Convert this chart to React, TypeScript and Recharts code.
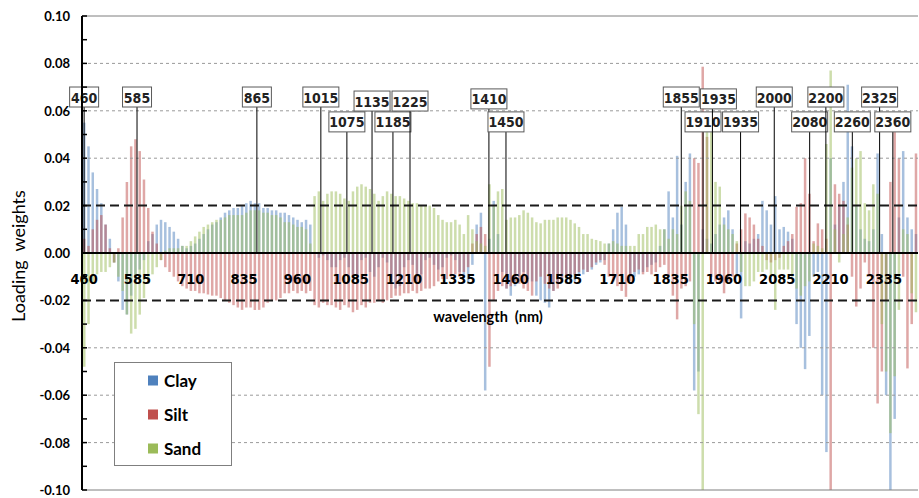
import { ComposedChart, Bar, XAxis, YAxis, ReferenceLine } from "recharts";

const FONT = "Lato, 'Noto Sans', sans-serif";
const NARROW = "'Liberation Sans Narrow', 'DejaVu Sans Condensed', Lato, sans-serif";

// wavelength grid (nm), one bar group every 10 nm
const WL_START = 460;
const WL_STEP = 10;
const WL_COUNT = 196;
const wavelengths = Array.from({ length: WL_COUNT }, (_, i) => WL_START + i * WL_STEP);

// loading weights, rows of 100 nm starting at 460
const clay = [
  0.055, 0.045, 0.034, 0.027, 0.021, 0.012, 0.006, -0.004, -0.012, -0.024,
  -0.026, -0.018, -0.012, -0.007, -0.003, 0.005, 0.008, 0.012, 0.014, 0.013,
  0.011, 0.009, 0.006, 0.003, 0.002, 0.003, 0.004, 0.006, 0.008, 0.010,
  0.012, 0.013, 0.015, 0.017, 0.018, 0.019, 0.019, 0.020, 0.021, 0.022,
  0.021, 0.021, 0.019, 0.019, 0.018, 0.018, 0.017, 0.017, 0.016, 0.015,
  0.014, 0.013, 0.014, 0.012, 0.000, -0.002, -0.001, -0.003, -0.006, -0.006,
  -0.003, -0.002, -0.006, -0.010, -0.009, -0.003, -0.002, -0.008, -0.010, -0.006,
  -0.002, -0.004, -0.012, -0.015, -0.014, -0.006, -0.003, -0.005, -0.010, -0.009,
  -0.003, -0.002, -0.005, -0.007, -0.006, -0.002, -0.001, -0.003, -0.008, -0.010,
  -0.013, -0.005, 0.012, 0.017, -0.058, 0.006, 0.022, 0.008, -0.008, -0.015,
  -0.018, -0.014, -0.010, -0.008, -0.011, -0.012, -0.018, -0.020, -0.021, -0.023,
  -0.016, -0.013, -0.011, -0.013, -0.013, -0.012, -0.009, -0.009, -0.008, -0.007,
  -0.005, -0.004, -0.003, 0.004, 0.010, 0.017, 0.0195, 0.012, -0.010, -0.010,
  -0.009, -0.008, -0.006, -0.005, -0.004, 0.003, 0.010, 0.026, 0.015, 0.041,
  0.012, 0.030, 0.042, -0.058, -0.050, 0.010, 0.006, 0.004, 0.008, 0.012,
  0.015, 0.018, 0.010, -0.010, -0.0276, 0.005, 0.004, 0.006, 0.008, 0.022,
  0.018, 0.012, 0.024, 0.010, 0.011, 0.009, 0.006, -0.030, -0.040, -0.049,
  -0.035, -0.010, -0.008, -0.060, -0.084, 0.040, 0.012, 0.020, 0.030, 0.071,
  0.045, 0.020, 0.010, 0.006, 0.005, 0.010, 0.042, 0.008, -0.060, -0.100,
  -0.070, 0.015, 0.043, 0.015, 0.010, 0.008,
];

const silt = [
  0.006, 0.003, 0.010, 0.014, 0.016, 0.012, 0.002, -0.004, 0.002, 0.015,
  0.030, 0.045, 0.048, 0.043, 0.031, 0.019, 0.009, 0.004, -0.003, -0.006,
  -0.008, -0.010, -0.012, -0.014, -0.015, -0.016, -0.016, -0.017, -0.017, -0.0175,
  -0.018, -0.018, -0.019, -0.020, -0.021, -0.022, -0.023, -0.024, -0.023, -0.023,
  -0.024, -0.024, -0.023, -0.021, -0.020, -0.020, -0.019, -0.017, -0.017, -0.016,
  -0.017, -0.016, -0.017, -0.016, -0.022, -0.023, -0.021, -0.022, -0.022, -0.023,
  -0.024, -0.022, -0.023, -0.025, -0.024, -0.022, -0.023, -0.021, -0.021, -0.020,
  -0.021, -0.020, -0.019, -0.018, -0.018, -0.017, -0.017, -0.016, -0.017, -0.016,
  -0.015, -0.015, -0.014, -0.012, -0.011, -0.011, -0.010, -0.009, -0.010, -0.008,
  -0.006, 0.004, 0.008, 0.011, 0.008, -0.048, -0.020, -0.016, -0.014, -0.015,
  -0.014, -0.012, -0.013, -0.015, -0.016, -0.018, -0.012, -0.010, -0.013, -0.015,
  -0.016, -0.015, -0.012, -0.010, -0.011, -0.009, -0.008, -0.007, -0.008, -0.006,
  -0.004, -0.003, -0.005, -0.010, -0.012, -0.014, -0.016, -0.0185, -0.012, -0.008,
  -0.007, -0.009, -0.008, -0.009, -0.008, -0.006, -0.005, -0.010, -0.018, -0.028,
  -0.015, -0.014, -0.012, 0.040, 0.038, 0.0786, 0.049, -0.010, -0.012, -0.013,
  -0.017, -0.012, -0.010, 0.004, 0.010, 0.0167, 0.015, 0.012, 0.006, 0.003,
  -0.003, -0.004, -0.003, -0.002, 0.003, 0.005, 0.008, 0.0195, 0.021, 0.040,
  0.025, 0.005, 0.0125, 0.010, 0.006, -0.100, 0.029, 0.025, 0.022, 0.012,
  -0.010, -0.0226, -0.015, -0.004, -0.010, -0.040, -0.0635, -0.050, -0.020, 0.030,
  0.051, 0.040, -0.010, -0.0487, -0.030, 0.042,
];

const sand = [
  -0.048, -0.030, -0.013, -0.009, -0.008, -0.008, -0.006, -0.004, -0.010, -0.016,
  -0.026, -0.034, -0.032, -0.026, -0.019, -0.013, -0.009, -0.006, -0.003, 0.001,
  0.002, 0.002, 0.002, 0.003, 0.003, 0.005, 0.007, 0.009, 0.011, 0.012,
  0.013, 0.014, 0.014, 0.015, 0.016, 0.016, 0.016, 0.016, 0.017, 0.018,
  0.018, 0.018, 0.017, 0.017, 0.016, 0.016, 0.015, 0.013, 0.013, 0.012,
  0.011, 0.011, 0.010, 0.004, 0.024, 0.026, 0.022, 0.025, 0.026, 0.026,
  0.025, 0.023, 0.022, 0.026, 0.028, 0.029, 0.028, 0.027, 0.025, 0.022,
  0.024, 0.026, 0.025, 0.024, 0.024, 0.023, 0.022, 0.021, 0.021, 0.020,
  0.020, 0.020, 0.019, 0.016, 0.014, 0.013, 0.013, 0.014, 0.012, 0.008,
  0.016, 0.010, 0.005, 0.004, 0.003, 0.029, 0.020, 0.026, 0.027, 0.014,
  0.015, 0.015, 0.016, 0.018, 0.017, 0.015, 0.013, 0.0125, 0.014, 0.014,
  0.014, 0.015, 0.015, 0.015, 0.014, 0.0125, 0.011, 0.008, 0.008, 0.006,
  0.0055, 0.005, 0.004, 0.004, 0.005, 0.004, 0.003, 0.003, 0.003, 0.003,
  0.008, 0.008, 0.011, 0.011, 0.012, 0.010, 0.010, 0.006, 0.010, 0.008,
  0.020, 0.026, 0.022, -0.030, -0.068, -0.100, 0.051, 0.051, 0.030, 0.028,
  0.012, 0.010, 0.008, 0.005, -0.008, -0.014, -0.014, -0.012, -0.008, -0.008,
  -0.007, -0.010, -0.024, -0.007, -0.007, -0.007, -0.010, -0.015, -0.018, -0.014,
  -0.012, 0.004, 0.003, 0.002, 0.046, 0.077, 0.010, -0.004, 0.008, 0.015,
  0.036, 0.040, 0.043, 0.021, 0.018, 0.029, 0.025, -0.030, -0.050, -0.076,
  -0.052, -0.024, 0.010, 0.008, -0.017, -0.025,
];

const xTicks = [460, 585, 710, 835, 960, 1085, 1210, 1335, 1460, 1585, 1710, 1835, 1960, 2085, 2210, 2335];
const yTicks = [
  -0.1, -0.09, -0.08, -0.07, -0.06, -0.05, -0.04, -0.03, -0.02, -0.01, 0,
  0.01, 0.02, 0.03, 0.04, 0.05, 0.06, 0.07, 0.08, 0.09, 0.1,
];
const gridValues = [0.08, 0.06, 0.04, -0.04, -0.06, -0.08];
const thresholds = [0.02, -0.02];

// labelled wavelengths: where the marker line stands, how high its box sits,
// and a small sideways shift of the box where the figure has one
const annotations = [
  { label: "460", at: 460, top: 0.0616, shift: 0 },
  { label: "585", at: 584, top: 0.0616, shift: 0 },
  { label: "865", at: 865, top: 0.0616, shift: 0 },
  { label: "1015", at: 1015, top: 0.0616, shift: 0 },
  { label: "1075", at: 1076, top: 0.0511, shift: 0 },
  { label: "1135", at: 1135, top: 0.0599, shift: 0 },
  { label: "1185", at: 1184, top: 0.0511, shift: 0 },
  { label: "1225", at: 1224, top: 0.0599, shift: 0 },
  { label: "1410", at: 1409, top: 0.0608, shift: 0 },
  { label: "1450", at: 1449, top: 0.0511, shift: 0 },
  { label: "1855", at: 1860, top: 0.0616, shift: 0 },
  { label: "1910", at: 1911, top: 0.0511, shift: 0 },
  { label: "1935", at: 1933, top: 0.0608, shift: 6 },
  { label: "1935", at: 1999, top: 0.0511, shift: 0 },
  { label: "2000", at: 2078, top: 0.0616, shift: 0 },
  { label: "2080", at: 2161, top: 0.0511, shift: 0 },
  { label: "2200", at: 2199, top: 0.0616, shift: 0 },
  { label: "2260", at: 2261, top: 0.0511, shift: 0 },
  { label: "2325", at: 2325, top: 0.0616, shift: 0 },
  { label: "2360", at: 2356, top: 0.0511, shift: 0 },
];

const series = [
  { key: "clay", name: "Clay", color: "#4F81BD", axis: 0 },
  { key: "silt", name: "Silt", color: "#C0504D", axis: "silt" },
  { key: "sand", name: "Sand", color: "#9BBB59", axis: "sand" },
];

const data = wavelengths.map((wl, i) => ({ wl, clay: clay[i], silt: silt[i], sand: sand[i] }));

const AXIS_X = 82;
const DOMAIN: [number, number] = [455, 2415];

function XTick({ x, payload }: any) {
  return (
    <text x={x} y={279} textAnchor="middle" dominantBaseline="central"
      fontSize={14.5} fontWeight={700} fontFamily={NARROW} fill="#000">
      {payload.value}
    </text>
  );
}

function YTick({ y, payload }: any) {
  const v = payload.value;
  const major = Math.round(v * 100) % 2 === 0;
  return (
    <g>
      <line x1={AXIS_X} x2={AXIS_X + 5} y1={y} y2={y} stroke="#000" strokeWidth={1.5} />
      {major && (
        <text x={70} y={y} textAnchor="end" dominantBaseline="central"
          fontSize={13} fontWeight={700} fontFamily={FONT} fill="#000">
          {v.toFixed(2)}
        </text>
      )}
    </g>
  );
}

function AnnotationBox({ viewBox, value, shift }: any) {
  if (!viewBox) return null;
  const x = viewBox.x + (shift || 0);
  const y = viewBox.y;
  const w = String(value).length * 7 + 8;
  const h = 20;
  return (
    <g>
      <rect x={x - w / 2} y={y - h} width={w} height={h} fill="#fff" stroke="#595959" strokeWidth={1} />
      <text x={x} y={y - h / 2 + 0.5} textAnchor="middle" dominantBaseline="central"
        fontSize={14} fontWeight={700} fontFamily={NARROW} fill="#222">
        {value}
      </text>
    </g>
  );
}

export default function App() {
  return (
    <div style={{ position: "absolute", left: 0, top: 0, width: 919, height: 498, background: "#fff" }}>
      <ComposedChart width={919} height={498} data={data}
        margin={{ top: 16, right: 1, bottom: 0, left: 0 }}>
        <XAxis xAxisId={0} dataKey="wl" type="number" domain={DOMAIN} allowDataOverflow
          ticks={xTicks} interval={0} height={8} axisLine={false} tickLine={false} tick={<XTick />} />
        <XAxis xAxisId="silt" dataKey="wl" type="number" domain={DOMAIN} allowDataOverflow hide />
        <XAxis xAxisId="sand" dataKey="wl" type="number" domain={DOMAIN} allowDataOverflow hide />
        <YAxis width={AXIS_X} domain={[-0.1, 0.1]} ticks={yTicks} interval={0} allowDataOverflow
          axisLine={{ stroke: "#000", strokeWidth: 2 }} tickLine={false} tickSize={0} tick={<YTick />} />

        {gridValues.map(v => (
          <ReferenceLine key={v} y={v} stroke="#9a9a9a" strokeDasharray="3 3" />
        ))}

        {series.map(s => (
          <Bar key={s.key} dataKey={s.key} name={s.name} xAxisId={s.axis} fill={s.color}
            fillOpacity={0.5} barSize={2.5} isAnimationActive={false} />
        ))}

        <ReferenceLine y={0.1} stroke="#7f7f7f" />
        <ReferenceLine y={-0.1} stroke="#7f7f7f" />
        {thresholds.map(v => (
          <ReferenceLine key={v} y={v} stroke="#1a1a1a" strokeWidth={2} strokeDasharray="9 5" />
        ))}
        <ReferenceLine y={0} stroke="#000" strokeWidth={2} />

        {annotations.map((a, i) => (
          <ReferenceLine key={i}
            segment={[{ x: a.at, y: 0 }, { x: a.at, y: a.top }]}
            stroke="#000" strokeWidth={1}
            label={{ value: a.label, content: <AnnotationBox shift={a.shift} /> }} />
        ))}
      </ComposedChart>

      {/* axis titles */}
      <div style={{ position: "absolute", left: 488, top: 316, transform: "translate(-50%, -50%)",
        fontFamily: FONT, fontWeight: 700, fontSize: 14.5, whiteSpace: "pre", color: "#000" }}>
        wavelength  (nm)
      </div>
      <div style={{ position: "absolute", left: 18, top: 256, transform: "translate(-50%, -50%) rotate(-90deg)",
        fontFamily: FONT, fontSize: 18, whiteSpace: "pre", color: "#000" }}>
        Loading  weights
      </div>

      {/* legend */}
      <div style={{ position: "absolute", left: 114, top: 362, width: 118, height: 104, boxSizing: "border-box",
        border: "1px solid #7f7f7f", background: "#fff", fontFamily: FONT }}>
        {series.map((s, i) => (
          <div key={s.key} style={{ position: "absolute", left: 33, top: 17 + i * 34, transform: "translateY(-50%)",
            display: "flex", alignItems: "center" }}>
            <span style={{ width: 10, height: 10, background: s.color, display: "inline-block", marginRight: 6 }} />
            <span style={{ fontSize: 17, fontWeight: 700, color: "#000" }}>{s.name}</span>
          </div>
        ))}
      </div>
    </div>
  );
}
